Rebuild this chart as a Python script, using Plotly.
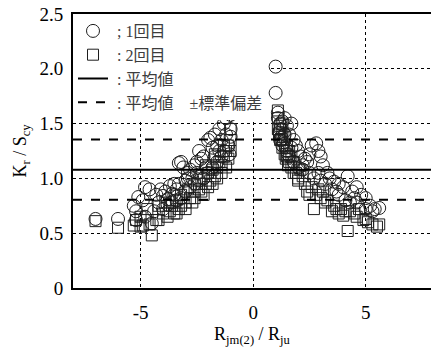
import plotly.graph_objects as go

# ---- data ----
c1_x = [-7.0, -6.0, -5.3, -5.2, -5.1, -4.9, -4.8, -4.6, -4.5, -4.3, -4.1, -4.0, -3.9, -3.8, -3.7,
        -3.6, -3.5, -3.4, -3.3, -3.2, -3.1, -3.0, -2.9, -2.8, -2.7, -2.6, -2.5, -2.4, -2.3, -2.2,
        -2.1, -2.0, -1.9, -1.8, -1.7, -1.6, -1.5, -1.5, -1.4, -1.3, -1.2, -1.1, -1.0, -1.0, -1.0,
        -1.1, -1.2, -1.3, -1.4, -1.6, -1.8, -2.0, -2.2, -2.4, -2.6, -2.8, -3.0, -3.2, -3.4, -3.6,
        -3.8, -4.0, -4.4, -4.8, -5.2, -1.0, -1.05, -1.5, -1.7, -2.5, -2.9, -3.3, -3.5, -4.2,
        1.0, 1.0, 1.1, 1.1, 1.2, 1.2, 1.3, 1.4, 1.5, 1.6, 1.7, 1.8, 1.9, 2.0, 2.1, 2.3, 2.4, 2.5,
        2.6, 2.8, 2.9, 3.0, 3.1, 3.3, 3.4, 3.6, 3.8, 4.0, 4.2, 4.4, 4.6, 4.8, 5.0, 5.2, 5.4, 5.6,
        1.2, 1.3, 1.5, 1.6, 1.8, 2.0, 2.2, 2.5, 2.7, 3.0, 3.2, 3.5, 3.8, 4.1, 4.3, 4.6, 5.0, 5.3,
        1.4, 1.7, 2.2, 2.9, 3.7, 4.5, 1.15, 1.25, 1.35, 1.45, 1.55]
c1_y = [0.63, 0.63, 0.75, 0.70, 0.83, 0.80, 0.92, 0.90, 0.59, 0.85, 0.90, 0.84, 0.88, 0.81, 0.93,
        0.86, 0.95, 0.90, 1.14, 1.15, 1.10, 0.98, 1.05, 1.08, 1.00, 1.12, 1.05, 1.25, 1.18, 1.20,
        1.10, 1.35, 1.37, 1.28, 1.40, 1.30, 1.45, 1.62, 1.35, 1.50, 1.55, 1.63, 1.65, 1.58, 1.45,
        1.30, 1.40, 1.25, 1.20, 1.15, 1.10, 1.05, 1.00, 0.98, 0.95, 0.92, 0.88, 0.82, 0.80, 0.78,
        0.76, 0.72, 0.70, 0.65, 0.62, 1.38, 1.22, 1.25, 1.20, 1.15, 1.00, 0.95, 0.85, 0.78,
        2.02, 1.78, 1.60, 1.55, 1.50, 1.45, 1.52, 1.55, 1.48, 1.40, 1.50, 1.35, 1.30, 1.25, 1.20,
        1.18, 1.15, 1.22, 1.30, 1.32, 1.25, 1.20, 1.12, 1.05, 1.00, 0.97, 0.95, 0.92, 1.02, 0.88,
        0.92, 0.85, 0.82, 0.75, 0.72, 0.73,
        1.35, 1.30, 1.25, 1.20, 1.15, 1.10, 1.08, 1.05, 1.00, 0.98, 0.95, 0.90, 0.85, 0.80, 0.78,
        0.78, 0.72, 0.70, 1.40, 1.28, 1.12, 1.05, 0.88, 0.82, 1.42, 1.38, 1.33, 1.28, 1.22]

c2_x = [-7.0, -6.0, -5.3, -5.2, -5.0, -4.9, -4.7, -4.5, -4.3, -4.2, -4.0, -3.9, -3.7, -3.5, -3.4,
        -3.3, -3.2, -3.0, -2.9, -2.8, -2.6, -2.5, -2.4, -2.3, -2.2, -2.1, -2.0, -1.9, -1.8, -1.7,
        -1.6, -1.5, -1.4, -1.3, -1.2, -1.1, -1.0, -1.0, -1.1, -1.0, -1.2, -1.4, -1.6, -1.8, -2.0,
        -2.3, -2.6, -3.0, -3.4, -3.8, -4.2, -4.6, -5.0, -2.7, -3.2, -1.7, -1.3, -2.1, -3.6,
        1.1, 1.1, 1.2, 1.3, 1.4, 1.5, 1.5, 1.6, 1.7, 1.8, 1.9, 2.0, 2.1, 2.3, 2.4, 2.5, 2.7, 2.9,
        3.0, 3.1, 3.3, 3.5, 3.6, 3.8, 3.9, 4.0, 4.2, 4.3, 4.5, 4.7, 4.9, 5.1, 5.3, 5.5, 5.6,
        1.2, 1.3, 1.4, 1.6, 1.8, 2.0, 2.2, 2.6, 2.8, 3.2, 3.7, 4.1, 4.6, 5.0, 1.1, 1.3, 1.7,
        1.15, 1.25, 1.45, 1.55]
c2_y = [0.61, 0.55, 0.57, 0.62, 0.65, 0.57, 0.72, 0.48, 0.62, 0.75, 0.68, 0.78, 0.70, 0.68, 0.80,
        0.72, 0.85, 0.78, 0.90, 0.82, 0.88, 0.95, 0.90, 1.00, 0.85, 0.95, 1.05, 0.98, 1.08, 1.02,
        1.10, 1.15, 1.12, 1.20, 1.25, 1.30, 1.35, 1.25, 1.18, 1.45, 1.10, 1.05, 1.00, 0.95, 0.92,
        0.88, 0.82, 0.72, 0.68, 0.65, 0.62, 0.58, 0.56, 0.78, 0.75, 1.22, 1.30, 1.12, 0.75,
        1.62, 1.55, 1.48, 1.42, 1.38, 1.30, 1.20, 1.25, 1.10, 1.15, 1.05, 1.00, 1.08, 0.95, 0.88,
        0.85, 0.72, 0.90, 0.82, 0.88, 0.80, 0.70, 0.75, 0.68, 0.72, 0.66, 0.52, 0.70, 0.68, 0.72,
        0.62, 0.60, 0.58, 0.56, 0.58,
        1.35, 1.28, 1.22, 1.15, 1.05, 0.98, 1.02, 0.92, 0.85, 0.78, 0.72, 0.70, 0.65, 0.63,
        1.45, 1.50, 1.20, 1.40, 1.36, 1.18, 1.12]

mean_val = 1.08
std_val = 0.275
x_span = [-8, 8]

labels = [" ; 1回目", " : 2回目", " : 平均値", " : 平均値　±標準偏差"]

FONT = "'Liberation Serif', 'Times New Roman', 'Noto Sans CJK JP', serif"
LEG_FONT = "'Liberation Serif', 'Noto Sans CJK JP', serif"
ink = "rgb(30,30,30)"

fig = go.Figure()
fig.add_trace(go.Scatter(x=c1_x, y=c1_y, mode="markers", name=labels[0],
                         marker=dict(symbol="circle-open", size=13, color=ink,
                                     line=dict(width=1, color=ink))))
fig.add_trace(go.Scatter(x=c2_x, y=c2_y, mode="markers", name=labels[1],
                         marker=dict(symbol="square-open", size=11, color=ink,
                                     line=dict(width=1, color=ink))))
fig.add_trace(go.Scatter(x=x_span, y=[mean_val, mean_val], mode="lines", name=labels[2],
                         line=dict(color="black", width=2)))
fig.add_trace(go.Scatter(x=x_span, y=[mean_val + std_val] * 2, mode="lines", name=labels[3],
                         line=dict(color="black", width=2, dash="dash")))
fig.add_trace(go.Scatter(x=x_span, y=[mean_val - std_val] * 2, mode="lines", showlegend=False,
                         line=dict(color="black", width=2, dash="dash")))

fig.update_layout(
    width=431, height=347,
    margin=dict(l=73, r=0, t=14, b=59),
    plot_bgcolor="white", paper_bgcolor="white",
    font=dict(family=FONT, size=19, color="black"),
    legend=dict(x=0.0, y=1.0, xanchor="left", yanchor="top", bgcolor="white",
                font=dict(family=LEG_FONT, size=16, color="rgb(60,60,60)"), tracegroupgap=0,
                itemwidth=30, borderwidth=0),
    xaxis=dict(range=[-8, 7.9], tickvals=[-5, 0, 5], ticktext=["-5", "0", "5"],
               showgrid=True, gridcolor="black", griddash="dot", gridwidth=1,
               zeroline=False, showline=True, linecolor="black", linewidth=2,
               mirror=True, ticks="", ticklabelstandoff=6,
               title=dict(text="R<sub>jm(2)</sub> / R<sub>ju</sub>",
                          font=dict(size=18), standoff=8)),
    yaxis=dict(range=[0, 2.5], tickvals=[0, 0.5, 1.0, 1.5, 2.0, 2.5],
               ticktext=["0", "0.5", "1.0", "1.5", "2.0", "2.5"],
               showgrid=True, gridcolor="black", griddash="dot", gridwidth=1,
               zeroline=False, showline=True, linecolor="black", linewidth=2,
               ticks="", ticklabelstandoff=4,
               title=dict(text="K<sub>r</sub> / S<sub>cy</sub>",
                          font=dict(size=18), standoff=8)),
)

fig.write_html("out.html")
